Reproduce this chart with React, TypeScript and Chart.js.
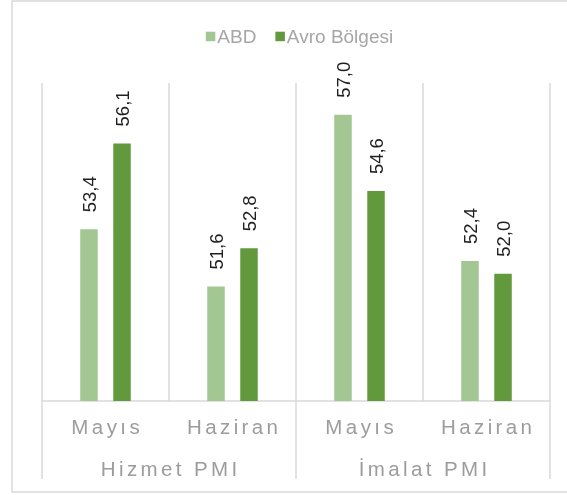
import React, { useEffect, useRef } from "react";
import { Chart, registerables } from "chart.js";

Chart.register(...registerables);

const months = ["Mayıs", "Haziran", "Mayıs", "Haziran"];
const groups = ["Hizmet PMI", "İmalat PMI"];
const seriesNames = ["ABD", "Avro Bölgesi"];
const abd = [53.4, 51.6, 57.0, 52.4];
const avro = [56.1, 52.8, 54.6, 52.0];
const colors = ["#A3C793", "#62993D"];

const FONT = "'Liberation Sans', Arial, sans-serif";
const GRID = "#d9d9d9";
const AXIS_TEXT = "#9c9c9c";

const overlay = {
  id: "overlay",
  beforeDatasetsDraw(chart: any) {
    const ctx = chart.ctx as CanvasRenderingContext2D;
    const x = chart.scales.x;
    const area = chart.chartArea;
    const n = months.length;
    const w = (area.right - area.left) / n;
    ctx.save();
    // outer border
    ctx.strokeStyle = GRID;
    ctx.lineWidth = 1.5;
    ctx.strokeRect(12, 1, 600, 491);
    // vertical lines
    for (let i = 0; i <= n; i++) {
      const px = Math.round(x.getPixelForValue(0) - w / 2 + i * w);
      const long = i % 2 === 0;
      ctx.beginPath();
      ctx.moveTo(px, area.top);
      ctx.lineTo(px, long ? 479 : area.bottom);
      ctx.stroke();
    }
    // axis line
    ctx.beginPath();
    ctx.moveTo(area.left, area.bottom);
    ctx.lineTo(area.right, area.bottom);
    ctx.stroke();

    // month labels
    const sp = 3.4;
    ctx.fillStyle = AXIS_TEXT;
    ctx.font = `20.5px ${FONT}`;
    (ctx as any).letterSpacing = `${sp}px`;
    ctx.textAlign = "center";
    ctx.textBaseline = "alphabetic";
    months.forEach((m, i) => {
      ctx.fillText(m, x.getPixelForValue(i) + sp / 2, 433.5);
    });
    groups.forEach((g, gi) => {
      const cx = (x.getPixelForValue(gi * 2) + x.getPixelForValue(gi * 2 + 1)) / 2;
      ctx.fillText(g, cx + sp / 2, 476);
    });
    (ctx as any).letterSpacing = "0px";

    // legend
    ctx.font = `19px ${FONT}`;
    ctx.textAlign = "left";
    const sq = 9.5;
    const gap = 2;
    const between = 19;
    const widths = seriesNames.map((s) => ctx.measureText(s).width);
    const total = widths.reduce((a, b) => a + b, 0) + 2 * (sq + gap) + between;
    let lx = 299.5 - total / 2;
    seriesNames.forEach((s, i) => {
      ctx.fillStyle = colors[i];
      ctx.fillRect(lx, 31.7, sq, sq);
      ctx.fillStyle = "#a6a6a6";
      ctx.fillText(s, lx + sq + gap, 43);
      lx += sq + gap + widths[i] + between;
    });
    ctx.restore();
  },
  afterDatasetsDraw(chart: any) {
    const ctx = chart.ctx as CanvasRenderingContext2D;
    ctx.save();
    ctx.font = `18.5px ${FONT}`;
    ctx.fillStyle = "#1f1f1f";
    ctx.textAlign = "left";
    ctx.textBaseline = "alphabetic";
    chart.data.datasets.forEach((ds: any, di: number) => {
      const meta = chart.getDatasetMeta(di);
      meta.data.forEach((bar: any, i: number) => {
        const v = ds.data[i] as number;
        const txt = v.toFixed(1).replace(".", ",");
        ctx.save();
        ctx.translate(bar.x + 6.6, bar.y - 17);
        ctx.rotate(-Math.PI / 2);
        ctx.fillText(txt, 0, 0);
        ctx.restore();
      });
    });
    ctx.restore();
  },
};

export default function App() {
  const ref = useRef<HTMLCanvasElement | null>(null);
  useEffect(() => {
    document.body.style.margin = "0";
    const canvas = ref.current!;
    const chart = new Chart(canvas, {
      type: "bar",
      data: {
        labels: months,
        datasets: [
          {
            label: seriesNames[0],
            data: abd,
            backgroundColor: colors[0],
            categoryPercentage: 0.52,
            barPercentage: 0.53,
          },
          {
            label: seriesNames[1],
            data: avro,
            backgroundColor: colors[1],
            categoryPercentage: 0.52,
            barPercentage: 0.53,
          },
        ],
      },
      options: {
        animation: false,
        responsive: false,
        maintainAspectRatio: false,
        devicePixelRatio: 1,
        layout: { padding: { left: 42, right: 17, top: 83, bottom: 94 } },
        plugins: { legend: { display: false }, tooltip: { enabled: false } },
        scales: {
          x: { display: false, offset: true },
          y: { display: false, min: 48, max: 58 },
        },
      },
      plugins: [overlay],
    });
    return () => chart.destroy();
  }, []);
  return (
    <div style={{ width: 567, height: 495, background: "#fff" }}>
      <canvas ref={ref} width={567} height={495} style={{ display: "block" }} />
    </div>
  );
}
